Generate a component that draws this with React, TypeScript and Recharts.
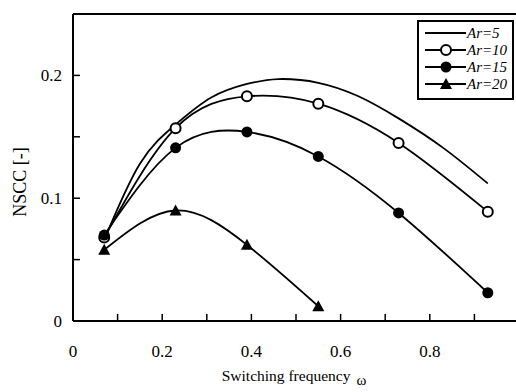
import { LineChart, Line, XAxis, YAxis, ReferenceLine } from "recharts";

// switching frequency (omega) and NSCC
const AR5_W = [0.07, 0.15, 0.23, 0.31, 0.39, 0.46, 0.55, 0.64, 0.73, 0.83, 0.93];
const AR5_V = [0.066, 0.128, 0.16, 0.182, 0.193, 0.197, 0.194, 0.183, 0.165, 0.141, 0.112];
const MARK_W = [0.07, 0.23, 0.39, 0.55, 0.73, 0.93];
const AR10_V = [0.068, 0.157, 0.183, 0.177, 0.145, 0.089];
const AR15_V = [0.07, 0.141, 0.154, 0.134, 0.088, 0.023];
const AR20_W = [0.07, 0.23, 0.39, 0.55];
const AR20_V = [0.058, 0.09, 0.062, 0.012];

const X_TICKS = [0, 0.1, 0.2, 0.3, 0.4, 0.5, 0.6, 0.7, 0.8, 0.9];
const Y_TICKS = [0, 0.05, 0.1, 0.15, 0.2];

const FONT = "'Liberation Serif', 'Times New Roman', serif";

const toRows = (w: number[], v: number[]) => w.map((x, i) => ({ w: x, v: v[i] }));

const triangle = (cx: number, cy: number) => `M${cx},${cy - 6} L${cx + 6},${cy + 5} L${cx - 6},${cy + 5} Z`;

type Marker = "none" | "open" | "filled" | "triangle";

const SERIES: { name: string; data: { w: number; v: number }[]; marker: Marker }[] = [
  { name: "Ar=5", data: toRows(AR5_W, AR5_V), marker: "none" },
  { name: "Ar=10", data: toRows(MARK_W, AR10_V), marker: "open" },
  { name: "Ar=15", data: toRows(MARK_W, AR15_V), marker: "filled" },
  { name: "Ar=20", data: toRows(AR20_W, AR20_V), marker: "triangle" },
];

function drawMarker(marker: Marker, cx: number, cy: number, key?: string) {
  if (marker === "open") return <circle key={key} cx={cx} cy={cy} r={5} fill="#fff" stroke="#000" strokeWidth={2} />;
  if (marker === "filled") return <circle key={key} cx={cx} cy={cy} r={5.5} fill="#000" />;
  if (marker === "triangle") return <path key={key} d={triangle(cx, cy)} fill="#000" />;
  return <g key={key} />;
}

const XTick = (p: any) => {
  const v = p.payload.value;
  const major = Math.round(v * 10) % 2 === 0;
  return (
    <g>
      {v > 0 && <line x1={p.x} x2={p.x} y1={p.y} y2={p.y - 7} stroke="#000" strokeWidth={1.5} />}
      {major && (
        <text x={p.x} y={p.y + 36} textAnchor="middle" fontSize={17} fontFamily={FONT} fill="#000">
          {v === 0 ? "0" : v.toFixed(1)}
        </text>
      )}
    </g>
  );
};

const YTick = (p: any) => {
  const v = p.payload.value;
  const major = Math.round(v * 100) % 10 === 0;
  return (
    <g>
      {v > 0 && <line x1={p.x} x2={p.x + 7} y1={p.y} y2={p.y} stroke="#000" strokeWidth={1.5} />}
      {major && (
        <text x={p.x - 11} y={p.y + 6} textAnchor="end" fontSize={17} fontFamily={FONT} fill="#000">
          {v === 0 ? "0" : v.toFixed(1)}
        </text>
      )}
    </g>
  );
};

const LegendBox = () => (
  <div
    style={{
      position: "absolute",
      left: 417,
      top: 20,
      width: 93,
      height: 76,
      border: "2px solid #000",
      background: "#fff",
    }}
  >
    <svg width={93} height={76} style={{ display: "block" }}>
      {SERIES.map((s, i) => {
        const y = 11 + i * 17;
        return (
          <g key={s.name}>
            <line x1={6} x2={47} y1={y} y2={y} stroke="#000" strokeWidth={1.8} />
            {drawMarker(s.marker, 27, y)}
            <text x={48} y={y + 5} fontSize={15} fontStyle="italic" fontFamily={FONT} fill="#000">
              {s.name}
            </text>
          </g>
        );
      })}
    </svg>
  </div>
);

export default function App() {
  return (
    <div style={{ position: "absolute", left: 0, top: 0, width: 516, height: 392, overflow: "hidden", background: "#fff" }}>
      <LineChart width={522} height={392} margin={{ top: 14, right: 3, bottom: 41, left: 13 }}>
        <XAxis
          type="number"
          dataKey="w"
          domain={[0, 1]}
          ticks={X_TICKS}
          tick={<XTick />}
          tickSize={0}
          tickMargin={0}
          height={30}
          axisLine={{ stroke: "#000", strokeWidth: 2 }}
          tickLine={false}
          allowDataOverflow
          label={{
            content: () => (
              <text x={294} y={381} textAnchor="middle" fontSize={15.5} fontFamily={FONT} fill="#000">
                Switching frequency
                <tspan dx={6} dy={4} fontSize={15}>ω</tspan>
              </text>
            ),
          }}
        />
        <YAxis
          type="number"
          dataKey="v"
          domain={[0, 0.25]}
          ticks={Y_TICKS}
          tick={<YTick />}
          tickSize={0}
          tickMargin={0}
          width={60}
          axisLine={{ stroke: "#000", strokeWidth: 2 }}
          tickLine={false}
          allowDataOverflow
          label={{
            content: () => (
              <text x={26} y={182} transform="rotate(-90 26 182)" textAnchor="middle" fontSize={18} fontFamily={FONT} fill="#000">
                NSCC [-]
              </text>
            ),
          }}
        />
        <ReferenceLine y={0.25} stroke="#000" strokeWidth={2} />
        {SERIES.map((s) => (
          <Line
            key={s.name}
            name={s.name}
            data={s.data}
            dataKey="v"
            type="natural"
            stroke="#000"
            strokeWidth={1.8}
            isAnimationActive={false}
            dot={
              s.marker === "none"
                ? false
                : (p: any) => drawMarker(s.marker, p.cx, p.cy, `${s.name}-${p.index}`)
            }
            activeDot={false}
          />
        ))}
      </LineChart>
      <LegendBox />
    </div>
  );
}
